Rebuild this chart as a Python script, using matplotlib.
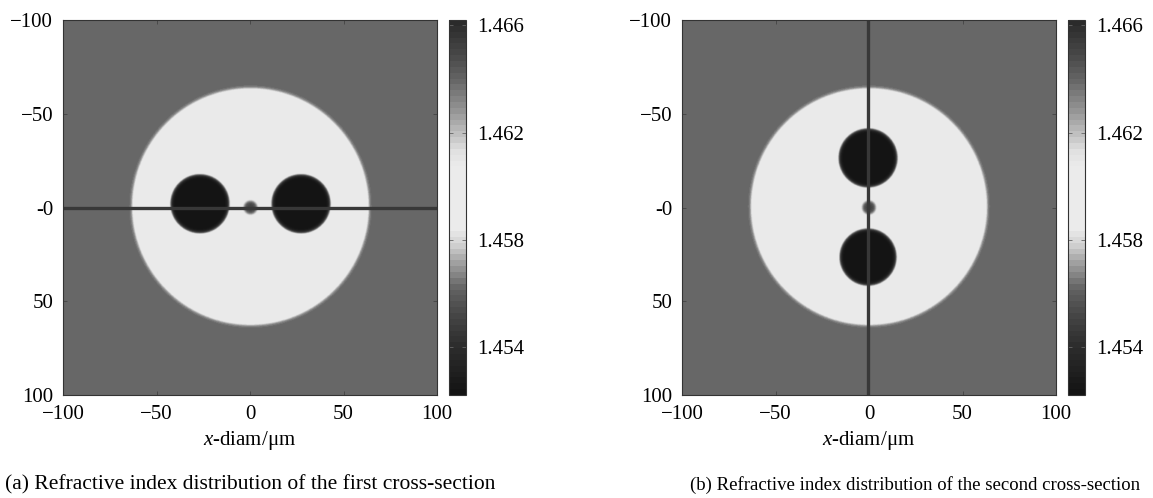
import numpy as np
import matplotlib
matplotlib.use("Agg")
import matplotlib.pyplot as plt
from matplotlib.colors import LinearSegmentedColormap

plt.rcParams["font.family"] = ["Liberation Serif", "DejaVu Serif"]
plt.rcParams["mathtext.fontset"] = "custom"
plt.rcParams["mathtext.rm"] = "Liberation Serif"
plt.rcParams["mathtext.it"] = "Liberation Serif:italic"

# --- refractive index levels ---
n_background = 1.4562
n_cladding = 1.4600
n_stress_rod = 1.4522
n_core = 1.4650
n_min, n_max = 1.4522, 1.4662

# --- geometry (um) ---
cladding_center = (0.0, -0.5)
cladding_radius = 63.0
core_radius = 3.5

rods_a_x = [-27.0, 27.0]
rods_a_y = [-2.0, -2.0]
rods_a_r = [15.5, 15.5]

rods_b_x = [-0.5, -0.5]
rods_b_y = [-26.5, 26.5]
rods_b_r = [15.5, 15.0]

cut_a = ("h", 0.0)
cut_b = ("v", -0.8)

x_ticks = [-100, -50, 0, 50, 100]
x_ticklabels = ["\u2212100", "\u221250", "0", "50", "100"]
y_ticks = [-100, -50, 0, 50, 100]
y_ticklabels = ["\u2212100", "\u221250", "-0", "50", "100"]
cbar_ticks = [1.454, 1.458, 1.462, 1.466]

captions = ["(a) Refractive index distribution of the first cross-section",
            "(b) Refractive index distribution of the second cross-section"]

# colorbar grey levels (position, grey)
cmap_pos = [0.0, 0.12, 0.2, 0.28, 0.347, 0.40, 0.44, 0.613, 0.653, 0.699, 0.76, 0.848, 0.92, 1.0]
cmap_grey = [0.08, 0.17, 0.26, 0.385, 0.62, 0.82, 0.92, 0.92, 0.88, 0.75, 0.59, 0.39, 0.27, 0.17]
cmap = LinearSegmentedColormap.from_list(
    "bw", [(p, (g, g, g)) for p, g in zip(cmap_pos, cmap_grey)], N=64)


def soft(d, w=1.1):
    return 0.5 * (1 - np.tanh(d / w))


def index_map(rx, ry, rr):
    g = np.linspace(-100, 100, 500)
    X, Y = np.meshgrid(g, g)
    n = np.full(X.shape, n_background)
    d = np.hypot(X - cladding_center[0], Y - cladding_center[1]) - cladding_radius
    n += (n_cladding - n) * soft(d)
    for cx, cy, r in zip(rx, ry, rr):
        d = np.hypot(X - cx, Y - cy) - r
        n += (n_stress_rod - n) * soft(d)
    d = np.hypot(X, Y) - core_radius
    n += (n_core - n) * soft(d)
    return n


W, H = 1153, 498
fig = plt.figure(figsize=(W / 100, H / 100), dpi=100)

panels = [
    (63, 449, rods_a_x, rods_a_y, rods_a_r, cut_a, captions[0], 5, 15.5),
    (682, 1068, rods_b_x, rods_b_y, rods_b_r, cut_b, captions[1], 690, 13.5),
]

for ax_left, cb_left, rx, ry, rr, cut, cap, cap_x, cap_fs in panels:
    ax = fig.add_axes([ax_left / W, 103 / H, 374 / W, 375 / H])
    cax = fig.add_axes([cb_left / W, 103 / H, 17 / W, 375 / H])
    im = ax.imshow(index_map(rx, ry, rr), cmap=cmap, vmin=n_min, vmax=n_max,
                   extent=[-100, 100, 100, -100], aspect="auto",
                   interpolation="bilinear")
    if cut[0] == "h":
        ax.axhline(cut[1], color="#383838", lw=2.4)
    else:
        ax.axvline(cut[1], color="#383838", lw=2.4)
    ax.set_xlim(-100, 100)
    ax.set_ylim(100, -100)
    ax.set_xticks(x_ticks)
    ax.set_xticklabels(x_ticklabels)
    ax.set_yticks(y_ticks)
    ax.set_yticklabels(y_ticklabels)
    ax.tick_params(direction="in", length=3, width=0.6, color="#444444",
                   top=True, right=True, labelsize=15, pad=7)
    for s in ax.spines.values():
        s.set_linewidth(0.8)
        s.set_color("#333333")
    ax.set_xlabel("$x$-diam/\u03bcm", fontsize=15, labelpad=4)

    cb = fig.colorbar(im, cax=cax, ticks=cbar_ticks)
    cb.ax.set_yticklabels(["%.3f" % t for t in cbar_ticks])
    cb.ax.tick_params(direction="in", length=3, width=0.6, color="#666666",
                      left=True, right=True, labelsize=15, pad=8)
    cb.outline.set_linewidth(0.8)
    cb.outline.set_edgecolor("#333333")

    fig.text(cap_x / W, 1 - 485 / H, cap, fontsize=cap_fs, ha="left", va="center")

fig.savefig("out.png", dpi=100)
